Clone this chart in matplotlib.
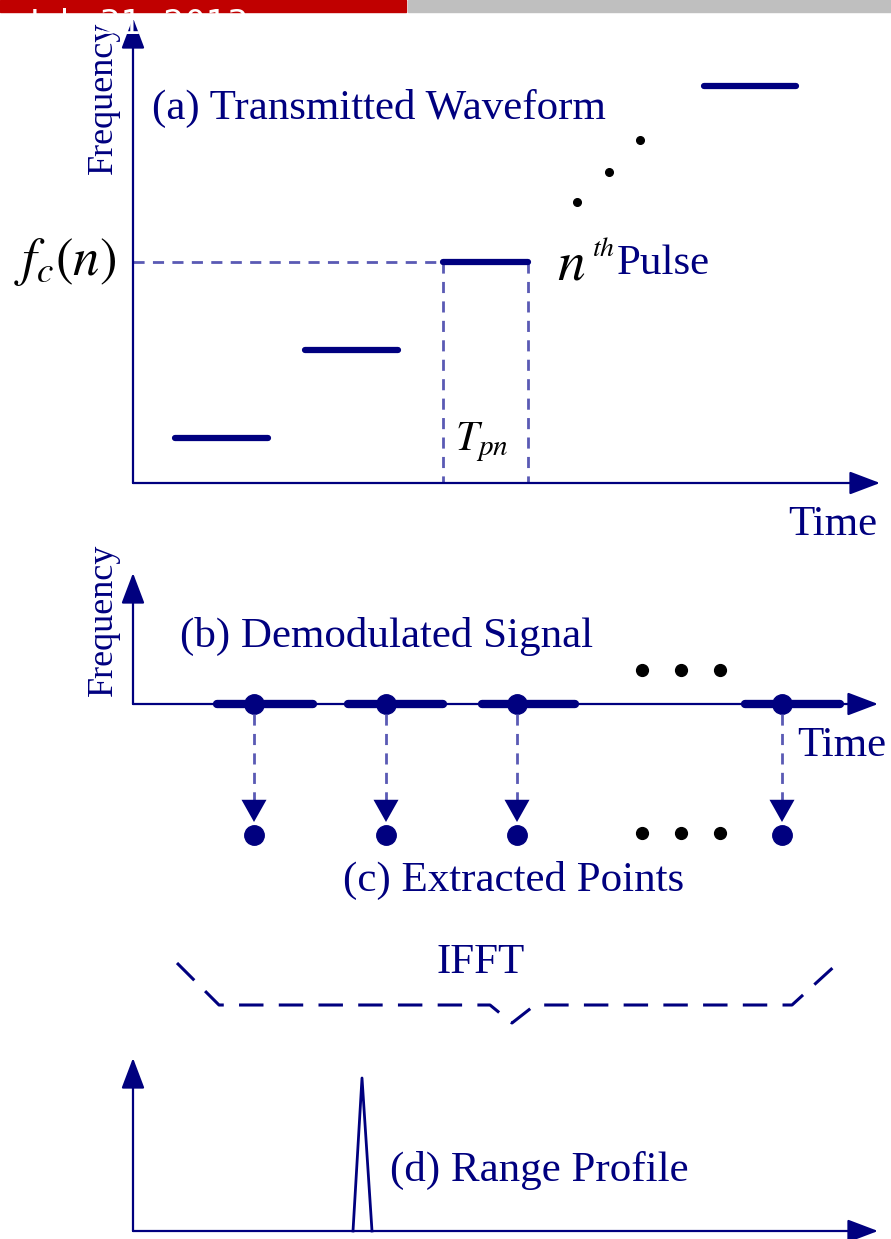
import matplotlib
matplotlib.use("Agg")
import matplotlib.pyplot as plt
from matplotlib.patches import Rectangle

plt.rcParams['font.family'] = ['Liberation Serif', 'DejaVu Serif']
plt.rcParams['mathtext.fontset'] = 'stix'

NAVY = '#00007f'
AXC = '#3c3c9c'
DASHC = '#5a5ab4'

# (a) transmitted waveform: pulse start, end and frequency level (pixels)
pulse_t0 = [175, 305, 443, 704]
pulse_t1 = [268, 398, 528, 796]
pulse_f = [438, 350, 262, 86]
ell_a_x = [577, 609, 640]
ell_a_y = [202, 172, 140]

# (b) demodulated signal: segments and sample points
seg_t0 = [217, 348, 482, 745]
seg_t1 = [313, 443, 575, 840]
sample_t = [254, 386, 517, 782]
ell_b_x = [642, 681, 720]

# IFFT brace
brace_x = [177, 219, 490, 512, 535, 792, 838]
brace_y = [963, 1005, 1005, 1023, 1005, 1005, 963]

# (d) range profile peak
peak_x = [353, 362, 372]
peak_y = [1231, 1078, 1231]

fig = plt.figure(figsize=(8.91, 12.39), dpi=100)
ax = fig.add_axes([0, 0, 1, 1])
ax.set_xlim(0, 891)
ax.set_ylim(1239, 0)
ax.axis('off')


def axis_arrow(x0, y0, x1, y1):
    ax.annotate('', xy=(x1, y1), xytext=(x0, y0),
                arrowprops=dict(arrowstyle='-|>,head_length=0.95,head_width=0.36',
                                mutation_scale=20, lw=1.6, color=AXC, fc=NAVY, ec=NAVY,
                                shrinkA=0, shrinkB=0))


# date banner
red = Rectangle((0, 0), 406, 12, color='#c00000', zorder=5)
ax.add_patch(red)
ax.add_patch(Rectangle((408, 0), 483, 12, color='#bfbfbf', zorder=5))
t = ax.text(30, 34, 'July 31, 2013', color='white', fontsize=24, family='DejaVu Sans',
            ha='left', va='baseline', zorder=6)
t.set_clip_path(red)

# ---- panel (a)
axis_arrow(133, 483, 133, 18)
axis_arrow(133, 483, 880, 483)
ax.plot([133, 443], [262, 262], ls=(0, (4, 3)), color=DASHC, lw=2)
for xx in [443, 528]:
    ax.plot([xx, xx], [262, 483], ls=(0, (4, 3)), color=DASHC, lw=2)
for a, b, f in zip(pulse_t0, pulse_t1, pulse_f):
    ax.plot([a, b], [f, f], color=NAVY, lw=4.5, solid_capstyle='round')
ax.plot(ell_a_x, ell_a_y, 'o', color='black', ms=5.5)

ax.text(103, 98, 'Frequency', rotation=90, color=NAVY, fontsize=26, ha='center', va='center')
ax.text(152, 108, '(a) Transmitted Waveform', color=NAVY, fontsize=31, ha='left', va='center')
ax.text(14, 262, '$f_c(n)$', color='black', fontsize=38, ha='left', va='center')
ax.text(455, 442, '$T_{pn}$', color='black', fontsize=30, ha='left', va='center')
ax.text(557, 266, '$n$', color='black', fontsize=40, ha='left', va='center')
ax.text(592, 250, '$th$', color='black', fontsize=20, ha='left', va='center')
ax.text(617, 264, 'Pulse', color=NAVY, fontsize=31, ha='left', va='center')
ax.text(788, 525, 'Time', color=NAVY, fontsize=31, ha='left', va='center')

# ---- panel (b) / (c)
axis_arrow(133, 704, 133, 573)
axis_arrow(133, 704, 878, 704)
for a, b in zip(seg_t0, seg_t1):
    ax.plot([a, b], [704, 704], color=NAVY, lw=6, solid_capstyle='round')
ax.plot(sample_t, [704] * len(sample_t), 'o', color=NAVY, ms=14)
for s in sample_t:
    ax.plot([s, s], [714, 805], ls=(0, (4, 3)), color=DASHC, lw=2)
    ax.annotate('', xy=(s, 822), xytext=(s, 802),
                arrowprops=dict(arrowstyle='-|>,head_length=0.8,head_width=0.45',
                                mutation_scale=20, lw=0, color=NAVY, shrinkA=0, shrinkB=0))
ax.plot(sample_t, [835] * len(sample_t), 'o', color=NAVY, ms=14)
ax.plot(ell_b_x, [670] * 3, 'o', color='black', ms=8.5)
ax.plot(ell_b_x, [833] * 3, 'o', color='black', ms=8.5)

ax.text(103, 620, 'Frequency', rotation=90, color=NAVY, fontsize=26, ha='center', va='center')
ax.text(180, 636, '(b) Demodulated Signal', color=NAVY, fontsize=31, ha='left', va='center')
ax.text(797, 746, 'Time', color=NAVY, fontsize=31, ha='left', va='center')
ax.text(343, 880, '(c) Extracted Points', color=NAVY, fontsize=31, ha='left', va='center')

# ---- IFFT brace
ax.plot(brace_x, brace_y, ls=(0, (8, 5)), color=NAVY, lw=2.2)
ax.text(481, 963, 'IFFT', color=NAVY, fontsize=31, ha='center', va='center')

# ---- panel (d)
axis_arrow(133, 1231, 133, 1058)
axis_arrow(133, 1231, 878, 1231)
ax.plot(peak_x, peak_y, color=NAVY, lw=2)
ax.text(390, 1170, '(d) Range Profile', color=NAVY, fontsize=31, ha='left', va='center')

fig.savefig('out.png', dpi=100)
